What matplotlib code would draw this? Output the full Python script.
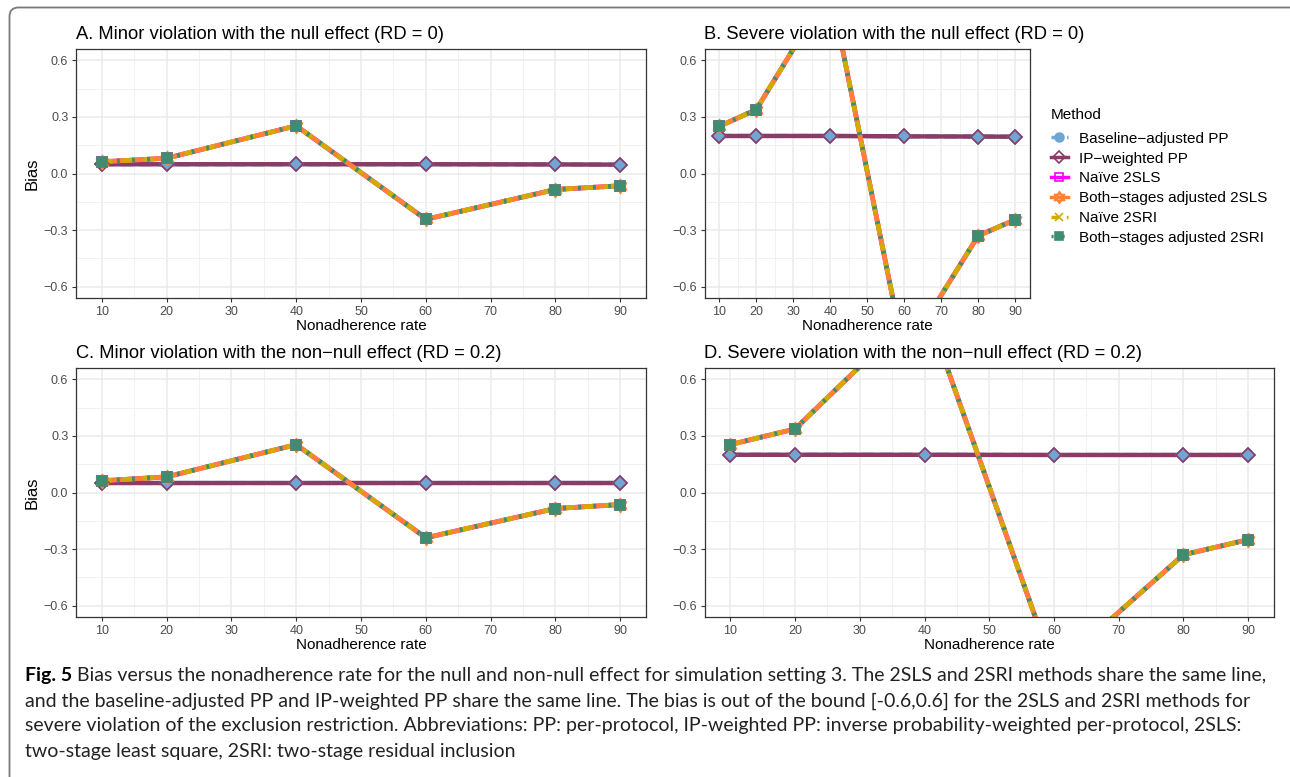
import matplotlib
matplotlib.use("Agg")
import matplotlib.pyplot as plt
from matplotlib.lines import Line2D
from matplotlib.path import Path
from matplotlib.patches import FancyBboxPatch
from matplotlib.transforms import IdentityTransform
from matplotlib.ticker import MultipleLocator

# ---------------- data ----------------
rates = [10, 20, 40, 60, 80, 90]

methods = ["Baseline\u2212adjusted PP", "IP\u2212weighted PP", "Na\u00efve 2SLS",
           "Both\u2212stages adjusted 2SLS", "Na\u00efve 2SRI", "Both\u2212stages adjusted 2SRI"]

panel_titles = ["A. Minor violation with the null effect (RD = 0)",
                "B. Severe violation with the null effect (RD = 0)",
                "C. Minor violation with the non\u2212null effect (RD = 0.2)",
                "D. Severe violation with the non\u2212null effect (RD = 0.2)"]

# bias of the PP estimators (baseline-adjusted and IP-weighted coincide)
pp_a = [0.049, 0.049, 0.049, 0.049, 0.048, 0.047]
pp_b = [0.199, 0.199, 0.199, 0.197, 0.196, 0.195]
pp_c = [0.050, 0.050, 0.050, 0.050, 0.050, 0.050]
pp_d = [0.200, 0.200, 0.200, 0.199, 0.199, 0.199]

# bias of the IV estimators (2SLS and 2SRI coincide)
iv_a = [0.062, 0.081, 0.253, -0.243, -0.085, -0.065]
iv_b = [0.250, 0.339, 0.980, -0.960, -0.330, -0.245]
iv_c = [0.062, 0.083, 0.254, -0.240, -0.085, -0.064]
iv_d = [0.254, 0.337, 1.000, -0.940, -0.330, -0.250]

y_ticks = [-0.6, -0.3, 0.0, 0.3, 0.6]
x_ticks = [10, 20, 30, 40, 50, 60, 70, 80, 90]

caption_bold = "Fig. 5"
caption_lines = [
    " Bias versus the nonadherence rate for the null and non-null effect for simulation setting 3. The 2SLS and 2SRI methods share the same line,",
    "and the baseline-adjusted PP and IP-weighted PP share the same line. The bias is out of the bound [-0.6,0.6] for the 2SLS and 2SRI methods for",
    "severe violation of the exclusion restriction. Abbreviations: PP: per-protocol, IP-weighted PP: inverse probability-weighted per-protocol, 2SLS:",
    "two-stage least square, 2SRI: two-stage residual inclusion",
]

# ---------------- styles ----------------
BLUE = "#6FA6D3"
PURPLE = "#8A3B66"
MAGENTA = "#FF00FF"
ORANGE = "#FF8133"
GOLD = "#D1AB00"
TEAL = "#3F8C70"

tri_up = Path([(0, 1), (-0.866, -0.5), (0.866, -0.5), (0, 1)],
              [Path.MOVETO, Path.LINETO, Path.LINETO, Path.CLOSEPOLY])
tri_dn = Path([(0, -1), (-0.866, 0.5), (0.866, 0.5), (0, -1)],
              [Path.MOVETO, Path.LINETO, Path.LINETO, Path.CLOSEPOLY])
STAR = Path.make_compound_path(tri_up, tri_dn)

# (color, linestyle, marker, face, edge, size) per method
line_styles = [
    (BLUE, (0, (3, 1.5)), "D", BLUE, BLUE, 7.5),
    (PURPLE, "-", "D", "none", PURPLE, 7.5),
    (MAGENTA, "-", "s", "none", MAGENTA, 7.5),
    (ORANGE, "-", STAR, "none", ORANGE, 10),
    (GOLD, (0, (2.2, 2.2)), "x", GOLD, GOLD, 7),
    (TEAL, (0, (0.6, 2.6)), "s", TEAL, TEAL, 7),
]
legend_markers = ["o", "D", "s", STAR, "x", "s"]

W, H = 1290, 777
plt.rcParams["font.family"] = ["Liberation Sans", "DejaVu Sans"]
fig = plt.figure(figsize=(W / 100, H / 100), dpi=100)
fig.patch.set_facecolor("white")


def axes_px(l, r, t, b):
    return fig.add_axes([l / W, 1 - b / H, (r - l) / W, (b - t) / H])


boxes = [(76, 646, 49, 298), (704.5, 1030, 49, 298),
         (76, 646, 368, 617), (704.5, 1274, 368, 617)]
pp_sets = [pp_a, pp_b, pp_c, pp_d]
iv_sets = [iv_a, iv_b, iv_c, iv_d]

for i, (box, pp, iv, title) in enumerate(zip(boxes, pp_sets, iv_sets, panel_titles)):
    ax = axes_px(*box)
    series = [pp, pp, iv, iv, iv, iv]
    lws = [3.0, 3.2, 3.4, 3.4, 3.4, 3.4]
    for k, (vals, st) in enumerate(zip(series, line_styles)):
        ax.plot(rates, vals, color=st[0], ls=st[1], lw=lws[k], zorder=2 + k * 0.01,
                solid_capstyle="butt", dash_capstyle="butt")
    for k, (vals, st) in enumerate(zip(series, line_styles)):
        ax.plot(rates, vals, ls="none", marker=st[2], mfc=st[3], mec=st[4],
                ms=st[5], mew=1.2, zorder=3 + k * 0.01)

    ax.set_xlim(6, 94)
    ax.set_ylim(-0.66, 0.66)
    ax.set_xticks(x_ticks)
    ax.set_yticks(y_ticks)
    ax.set_yticklabels(["\u22120.6", "\u22120.3", "0.0", "0.3", "0.6"])
    ax.xaxis.set_minor_locator(MultipleLocator(5))
    ax.yaxis.set_minor_locator(MultipleLocator(0.15))
    ax.grid(which="major", color="#EBEBEB", lw=1.1, zorder=0)
    ax.grid(which="minor", color="#EFEFEF", lw=0.6, zorder=0)
    ax.set_axisbelow(True)
    for sp in ax.spines.values():
        sp.set_color("#333333")
        sp.set_linewidth(0.9)
    ax.tick_params(which="major", length=3, width=0.8, color="#333333",
                   labelsize=9, labelcolor="#4D4D4D", pad=2.5)
    ax.tick_params(which="minor", length=0)
    ax.set_xlabel("Nonadherence rate", fontsize=11, labelpad=1.0)
    if i in (0, 2):
        ax.set_ylabel("Bias", fontsize=12, labelpad=3)
    ax.set_title(title, loc="left", fontsize=13.2, pad=7)

# legend
handles = []
for st, lm in zip(line_styles, legend_markers):
    handles.append(Line2D([], [], color=st[0], ls=st[1], lw=2.5, marker=lm,
                          mfc=st[3], mec=st[4], ms=st[5] * 0.85, mew=1.2))
leg = fig.legend(handles, methods, loc="upper left",
                 bbox_to_anchor=(1051 / W, 1 - 108 / H), frameon=False,
                 title="Method", title_fontsize=11, fontsize=11,
                 handlelength=1.1, handletextpad=0.75, labelspacing=0.38,
                 borderpad=0, borderaxespad=0)
leg._legend_box.align = "left"
leg._legend_box.sep = 7

# rounded frame around the figure
frame = FancyBboxPatch((9.5, -30), 1400, H - 7.5 + 30,
                       boxstyle="round,pad=0,rounding_size=9",
                       transform=IdentityTransform(), fill=False,
                       ec="#7A7A7A", lw=1.3)
fig.patches.append(frame)

# caption
cap_font = ["Lato", "DejaVu Sans"]
renderer = fig.canvas.get_renderer()
cap_size = 14
line_y = [676, 701, 726, 751]
tb = fig.text(25 / W, 1 - line_y[0] / H, caption_bold, fontsize=cap_size,
              fontweight="bold", family=cap_font, va="center", ha="left")
bw = tb.get_window_extent(renderer).width
fig.text((25 + bw) / W, 1 - line_y[0] / H, caption_lines[0], fontsize=cap_size,
         family=cap_font, va="center", ha="left", color="#222222")
for txt, yy in zip(caption_lines[1:], line_y[1:]):
    fig.text(25 / W, 1 - yy / H, txt, fontsize=cap_size, family=cap_font,
             va="center", ha="left", color="#222222")

fig.savefig("out.png", dpi=100)
